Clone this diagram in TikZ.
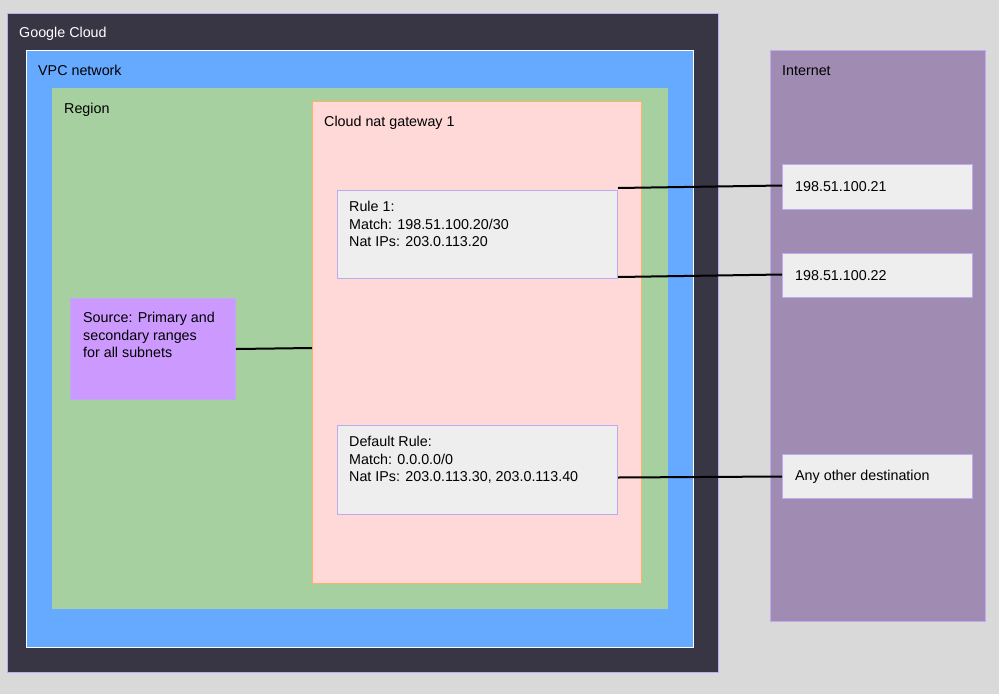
\documentclass[tikz,border=0pt]{standalone}
\usepackage{fontspec}
\setmainfont{Liberation Sans}
\begin{document}
\begin{tikzpicture}[x=1pt,y=-1pt,
 box/.style={draw=#1,line width=1pt},
 lbl/.style={anchor=north west,inner sep=0pt,font=\fontsize{14.3}{17.5}\selectfont,align=left},
 ln/.style={line width=2pt,black}]
\fill[fill={rgb,255:red,217;green,217;blue,217}] (0,0) rectangle (999,694);
\definecolor{gc}{RGB}{56,54,69}
\definecolor{vpc}{RGB}{102,170,255}
\definecolor{reg}{RGB}{166,208,159}
\definecolor{nat}{RGB}{255,216,216}
\definecolor{rule}{RGB}{238,238,238}
\definecolor{src}{RGB}{204,153,255}
\definecolor{inet}{RGB}{160,139,179}
\definecolor{lav}{RGB}{190,170,240}
\filldraw[fill=gc,draw=lav] (7,13) rectangle (718,672);
\node[lbl,text=white] (tgc) at (19,27) {Google Cloud};
\filldraw[fill=vpc,draw=white] (26,50) rectangle (693,647);
\node[lbl] (tvpc) at (38,65) {VPC network};
\filldraw[fill=reg,draw=reg] (52,88) rectangle (667,608);
\node[lbl] (treg) at (64,103) {Region};
\filldraw[fill=nat,draw=orange!60] (312,101) rectangle (641,583);
\node[lbl] (tnat) at (324,116) {Cloud nat gateway 1};
\node[box=lav,fill=rule,anchor=north west,minimum width=280,minimum height=88,inner sep=0] (r1) at (337,190) {};
\node[lbl] at (337,201) {\hspace*{12pt}Rule 1:\\\hspace*{12pt}Match: 198.51.100.20/30\\\hspace*{12pt}Nat IPs: 203.0.113.20};
\node[box=lav,fill=rule,anchor=north west,minimum width=280,minimum height=89,inner sep=0] (r2) at (337,425) {};
\node[lbl] at (337,436) {\hspace*{12pt}Default Rule:\\\hspace*{12pt}Match: 0.0.0.0/0\\\hspace*{12pt}Nat IPs: 203.0.113.30, 203.0.113.40};
\node[box=lav,fill=src,anchor=north west,minimum width=165,minimum height=101,inner sep=0] (s) at (70,298) {};
\node[lbl] at (70,312) {\hspace*{13pt}Source: Primary and\\\hspace*{13pt}secondary ranges\\\hspace*{13pt}for all subnets};
\filldraw[fill=inet,draw=lav] (770,50) rectangle (985,621);
\node[lbl] (tin) at (782,65) {Internet};
\node[box=lav,fill=rule,anchor=north west,minimum width=190,minimum height=45,inner sep=0] (i1) at (782,164) {};
\node[lbl,anchor=west] at (795,187) {198.51.100.21};
\node[box=lav,fill=rule,anchor=north west,minimum width=190,minimum height=44,inner sep=0] (i2) at (782,253) {};
\node[lbl,anchor=west] at (795,276) {198.51.100.22};
\node[box=lav,fill=rule,anchor=north west,minimum width=190,minimum height=44,inner sep=0] (i3) at (782,454) {};
\node[lbl,anchor=west] at (795,477) {Any other destination};
\coordinate (natL) at (312,348);
\draw[ln] (s.east) -- (natL);
\draw[ln] ([yshift=2]r1.north east) -- ([yshift=1.5]i1.west);
\draw[ln] ([yshift=2]r1.south east) -- ([yshift=1]i2.west);
\draw[ln] ([yshift=-7.5]r2.east) -- (i3.west);
\end{tikzpicture}
\end{document}
